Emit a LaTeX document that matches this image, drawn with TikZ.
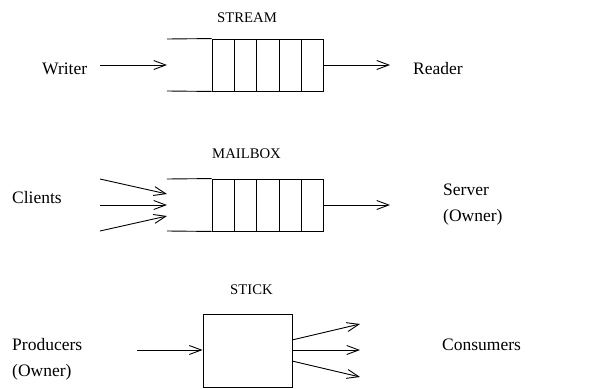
\documentclass[tikz,border=0pt]{standalone}
\usepackage{fontspec}
\setmainfont{Liberation Serif}
\usetikzlibrary{arrows.meta,positioning,calc}

\tikzset{
  flow/.style={draw, line width=0.9pt, -{Straight Barb[length=12pt,width=9pt,line width=0.9pt]}},
  line/.style={draw, line width=0.9pt},
  actor/.style={inner sep=0pt, anchor=base west, font=\fontsize{17.5}{26}\selectfont, align=left},
  kind/.style={inner sep=0pt, anchor=base west, font=\fontsize{14.7}{17}\selectfont},
  queuebox/.style={draw, line width=0.9pt, inner sep=0pt, minimum width=111pt, minimum height=52pt},
  stickbox/.style={draw, line width=0.9pt, inner sep=0pt, minimum width=89pt, minimum height=73pt}
}

\begin{document}
\begin{tikzpicture}[x=1pt,y=-1pt]
\useasboundingbox (0,0) rectangle (610,388);

% stream
\node[kind] (streamlbl) at (217,22.7) {STREAM};
\node[queuebox] (stream) at (267.5,65) {};
\foreach \x in {234,256,279,301}
  \draw[line] (\x,39) -- (\x,91);
\coordinate (streamin) at (167,65);
\draw[line] (167,39) -- (stream.north west);
\draw[line] (167,91) -- (stream.south west);
\node[actor] (writer) at (42,74) {Writer};
\node[actor] (reader) at (413,74) {Reader};
\coordinate (writerout) at (100,65);
\coordinate (readerin) at (390,65);
\draw[flow] (writerout) -- (streamin);
\draw[flow] (stream.east) -- (readerin);

% mailbox
\node[kind] (mailboxlbl) at (212,158.7) {MAILBOX};
\node[queuebox] (mailbox) at (267.5,205) {};
\foreach \x in {234,256,279,301}
  \draw[line] (\x,179) -- (\x,231);
\draw[line] (167,179) -- (mailbox.north west);
\draw[line] (167,231) -- (mailbox.south west);
\coordinate (mailboxin1) at (167,194);
\coordinate (mailboxin2) at (167,205);
\coordinate (mailboxin3) at (167,216);
\node[actor] (clients) at (12,203.5) {Clients};
\node[actor] (server) at (443,221) {Server\\(Owner)};
\coordinate (client1) at (100,179);
\coordinate (client2) at (100,205);
\coordinate (client3) at (100,231);
\coordinate (serverin) at (390,205);
\draw[flow] (client1) -- (mailboxin1);
\draw[flow] (client2) -- (mailboxin2);
\draw[flow] (client3) -- (mailboxin3);
\draw[flow] (mailbox.east) -- (serverin);

% stick
\node[kind] (sticklbl) at (230,294) {STICK};
\node[stickbox] (stick) at (247.5,350.5) {};
\node[actor] (producers) at (12,376.5) {Producers\\(Owner)};
\node[actor] (consumers) at (442,350) {Consumers};
\coordinate (producerout) at (137,350);
\coordinate (consumer1) at (360,324);
\coordinate (consumer2) at (360,350);
\coordinate (consumer3) at (360,377);
\draw[flow] (producerout) -- (producerout -| stick.west);
\draw[flow] (292,340) -- (consumer1);
\draw[flow] (consumer2 -| stick.east) -- (consumer2);
\draw[flow] (292,361) -- (consumer3);

\end{tikzpicture}
\end{document}
